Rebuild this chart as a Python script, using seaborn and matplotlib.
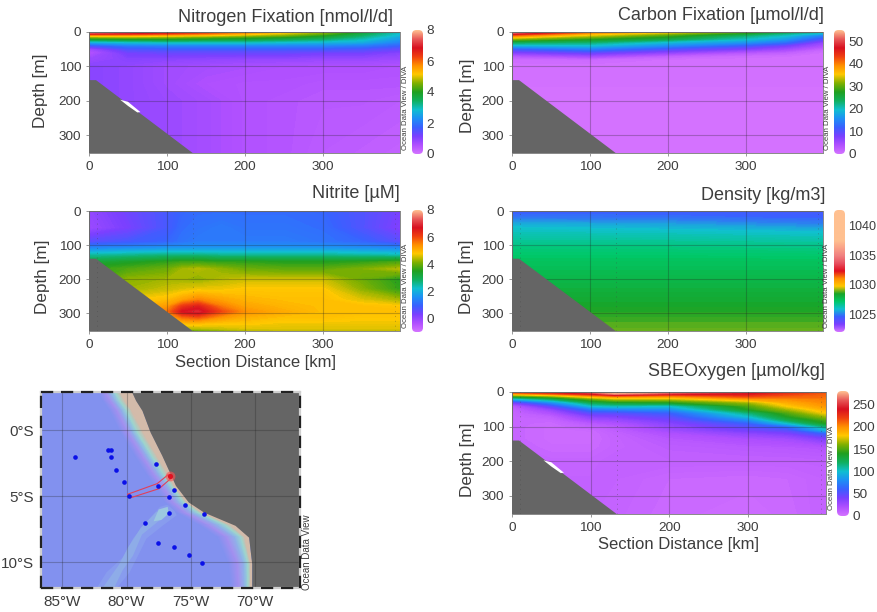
import numpy as np
import seaborn as sns
import matplotlib.pyplot as plt
from matplotlib.patches import FancyBboxPatch, Polygon

W, H = 878, 612

# nitrogen fixation section
n2_km = [0, 50, 100, 150, 200, 250, 300, 350, 400]
n2_depth = [0, 5, 10, 15, 20, 30, 40, 50, 60, 80, 100, 150, 200, 352]
n2_vals = [
    [8.0, 7.5, 7.0, 6.5, 5.9, 5.3, 4.7, 3.8, 2.9],
    [6.8, 6.6, 6.3, 5.9, 5.4, 4.9, 4.4, 3.6, 2.8],
    [5.5, 5.5, 5.3, 5.1, 4.8, 4.5, 4.0, 3.4, 2.7],
    [4.6, 4.7, 4.6, 4.4, 4.2, 4.0, 3.7, 3.2, 2.5],
    [3.9, 4.0, 4.0, 3.9, 3.8, 3.6, 3.4, 3.0, 2.4],
    [2.6, 2.8, 2.9, 2.9, 2.9, 2.8, 2.7, 2.6, 2.1],
    [1.5, 2.0, 2.1, 2.1, 2.1, 2.1, 2.1, 2.0, 1.7],
    [0.7, 1.5, 1.6, 1.6, 1.6, 1.6, 1.6, 1.5, 1.3],
    [0.5, 1.2, 1.3, 1.3, 1.3, 1.3, 1.2, 1.2, 1.0],
    [0.8, 1.0, 0.95, 0.9, 0.85, 0.85, 0.8, 0.8, 0.75],
    [1.0, 0.9, 0.75, 0.7, 0.65, 0.6, 0.6, 0.6, 0.55],
    [1.0, 0.9, 0.75, 0.6, 0.55, 0.55, 0.5, 0.5, 0.5],
    [1.0, 0.9, 0.8, 0.7, 0.55, 0.5, 0.45, 0.45, 0.4],
    [1.0, 0.9, 0.8, 0.7, 0.55, 0.5, 0.4, 0.35, 0.3],
]

# carbon fixation section
c_km = [0, 100, 200, 300, 350, 400]
c_depth = [0, 5, 10, 20, 30, 40, 50, 60, 70, 80, 100, 352]
c_vals = [
    [54, 42, 36, 30, 25, 21],
    [48, 37, 32, 26, 22, 18],
    [41, 34, 29, 23, 20, 14],
    [32, 28, 25, 20, 17, 10],
    [24, 23, 19, 16, 13, 6],
    [18, 19, 15, 11, 8, 4],
    [11, 14, 10, 7, 5, 1.5],
    [7, 9, 6, 3, 2, 0.5],
    [3, 5, 2, 0.8, 0.6, 0.3],
    [0.8, 1, 0.5, 0.3, 0.3, 0.3],
    [0.3, 0.3, 0.3, 0.3, 0.3, 0.3],
    [0.2, 0.2, 0.2, 0.2, 0.2, 0.2],
]

# nitrite section
no2_km = [0, 50, 100, 120, 140, 170, 200, 250, 300, 350, 400]
no2_depth = [0, 50, 90, 110, 130, 150, 170, 200, 230, 260, 280, 295, 310, 330, 345, 352]
no2_vals = [
    [0.0, 0.4, 0.8, 1.0, 1.1, 1.1, 1.1, 1.1, 1.0, 0.7, 0.3],
    [-0.1, 0.3, 0.8, 1.1, 1.2, 1.3, 1.2, 1.2, 1.1, 0.7, 0.2],
    [0.6, 0.8, 1.0, 1.2, 1.3, 1.3, 1.3, 1.3, 1.2, 1.0, 0.6],
    [1.5, 1.6, 1.7, 1.7, 1.7, 1.7, 1.7, 1.7, 1.7, 1.6, 1.5],
    [2.5, 2.6, 2.7, 2.7, 2.7, 2.6, 2.6, 2.6, 2.6, 2.5, 2.4],
    [3.2, 3.4, 3.6, 3.7, 3.7, 3.6, 3.6, 3.5, 3.5, 3.6, 3.8],
    [3.6, 3.8, 4.0, 4.3, 4.4, 4.2, 4.0, 3.9, 3.9, 4.1, 4.4],
    [3.6, 4.2, 4.3, 4.3, 4.2, 4.4, 4.5, 4.5, 4.5, 4.0, 3.5],
    [4.0, 4.3, 4.5, 4.6, 4.7, 4.7, 4.8, 4.8, 4.8, 4.2, 3.6],
    [4.4, 4.7, 4.9, 5.2, 5.5, 5.2, 5.0, 4.9, 4.9, 4.6, 4.3],
    [4.7, 4.9, 5.3, 6.2, 6.5, 5.6, 5.2, 5.0, 4.9, 4.9, 4.8],
    [4.7, 5.1, 5.6, 6.7, 6.9, 6.0, 5.4, 5.1, 4.9, 4.9, 4.9],
    [4.7, 4.9, 5.1, 5.8, 6.0, 5.4, 5.1, 4.9, 4.9, 4.8, 4.8],
    [4.7, 4.7, 4.7, 4.9, 4.9, 4.8, 4.8, 4.7, 4.7, 4.7, 4.7],
    [4.4, 4.4, 4.4, 4.4, 4.4, 4.5, 4.6, 4.6, 4.6, 4.6, 4.6],
    [3.9, 3.9, 3.9, 3.9, 3.9, 4.1, 4.3, 4.4, 4.4, 4.4, 4.4],
]

# density section
rho_km = [0, 200, 400]
rho_depth = [0, 20, 40, 60, 100, 150, 250, 352]
rho_vals = [
    [1024.5, 1024.5, 1024.3],
    [1024.9, 1024.8, 1024.6],
    [1025.7, 1025.5, 1025.1],
    [1026.1, 1026.0, 1025.8],
    [1026.8, 1026.8, 1026.7],
    [1027.4, 1027.4, 1027.4],
    [1028.2, 1028.2, 1028.2],
    [1028.9, 1028.9, 1028.9],
]

# oxygen section
o2_km = [0, 50, 100, 130, 200, 300, 350, 400]
o2_depth = [0, 5, 10, 15, 20, 30, 40, 50, 60, 70, 80, 90, 100, 110, 120, 135, 160, 200, 250, 352]
o2_vals = [
    [225, 240, 262, 278, 270, 245, 228, 215],
    [195, 215, 240, 272, 250, 238, 222, 212],
    [160, 175, 205, 225, 210, 225, 215, 210],
    [125, 145, 178, 190, 190, 212, 208, 208],
    [95, 120, 155, 170, 170, 195, 200, 205],
    [40, 80, 125, 135, 140, 165, 190, 202],
    [15, 50, 100, 105, 100, 150, 180, 198],
    [10, 30, 70, 75, 80, 140, 165, 190],
    [8, 20, 50, 50, 60, 115, 150, 180],
    [8, 12, 35, 38, 50, 100, 140, 165],
    [8, 8, 25, 28, 42, 80, 125, 150],
    [8, 6, 15, 20, 35, 60, 100, 140],
    [8, 5, 10, 14, 30, 50, 65, 115],
    [8, 5, 6, 12, 26, 42, 50, 95],
    [8, 5, 5, 10, 20, 32, 38, 60],
    [8, 5, 5, 9, 16, 22, 25, 38],
    [9, 6, 6, 9, 13, 15, 16, 18],
    [10, 9, 9, 11, 11, 11, 11, 12],
    [10, 10, 10, 10, 7, 6, 7, 10],
    [10, 10, 10, 9, 6, 5, 6, 10],
]

# sea floor along the section
floor_km = [0, 9, 133, 0]
floor_depth = [140, 140, 352, 352]
gap_km = [40, 50, 66, 62, 50]
gap_depth = [197, 203, 233, 234, 215]

# map
coast_lat = [2.9, 2.27, 1.5, -0.13, -1.9, -3.3, -4.17, -5.43, -6.2, -7.2, -8.1, -10.1, -12.0]
coast_lon = [-79.6, -79.3, -78.8, -78.17, -77.26, -76.6, -76.2, -75.2, -74.0, -71.56, -70.5, -70.26, -70.26]
beige_off = [-0.9, -0.85, -0.8, -0.55, -0.4, -0.2, -0.1, -0.12, -0.18, -0.3, -0.3, -0.08, -0.08]
teal_off = [-1.3, -1.25, -1.2, -1.0, -0.8, -0.55, -0.35, -0.4, -0.5, -0.75, -0.6, -0.3, -0.3]
pale_off = [-1.65, -1.6, -1.55, -1.35, -1.15, -0.9, -0.65, -0.75, -0.95, -1.3, -1.05, -0.6, -0.55]
violet_off = [-2.05, -2.0, -1.95, -1.75, -1.55, -1.3, -1.05, -1.2, -1.5, -2, -1.7, -1.1, -1]
outer_off = [-2.6, -2.55, -2.5, -2.3, -2.1, -1.85, -1.6, -1.8, -2.1, -2.7, -2.4, -1.8, -1.6]
ridge_lon = [-82.35, -81.55, -80.25, -79.5, -78.45, -77.4, -76.5, -76.1, -77.15, -78.45, -78.95, -79.75, -80.8]
ridge_lat = [-12.0, -10.75, -9.6, -8.2, -6.95, -5.8, -5.55, -6.45, -7.2, -8.2, -9.2, -10.75, -12.0]
ridge2_lon = [-81.9, -80.6, -79.9, -78.9, -77.7, -76.9, -77.4, -78.8, -79.5, -80.3, -81.0]
ridge2_lat = [-12.0, -10.2, -8.9, -7.4, -6.2, -5.9, -6.8, -7.9, -9.5, -10.6, -12.0]
ridge3_lon = [-77.9, -77.5, -76.8, -76.7, -77.3]
ridge3_lat = [-6.9, -6.0, -5.8, -6.3, -6.8]
st_lon = [-84.02, -81.48, -81.25, -81.22, -80.83, -80.23, -77.67, -77.56, -76.29, -76.68, -75.43, -73.98, -76.68, -78.57, -77.56, -76.29, -75.17, -74.09, -79.79]
st_lat = [-2.02, -1.52, -1.52, -2.02, -3.03, -3.89, -2.58, -4.22, -4.55, -5.05, -5.63, -6.34, -6.24, -7.05, -8.54, -8.84, -9.44, -10.05, -5.0]
track_lon = [-79.92, -77.61, -76.76, -76.42, -77.46, -79.74, -79.92]
track_lat = [-4.85, -4.04, -3.36, -3.54, -4.42, -5.13, -4.85]

sns.set_theme(style='white')
plt.rcParams['font.family'] = ['Liberation Sans', 'DejaVu Sans']
ink = '#3d3d3d'
odv = sns.blend_palette(['#d472ff', '#b050ff', '#7a40ff', '#3a60ff', '#1e90f5', '#10c0d0',
                         '#10b060', '#20a020', '#80b000', '#ffc800', '#ff9000', '#f04010',
                         '#d81020', '#e85858', '#ffc090'], n_colors=256, as_cmap=True)
odv_rho = sns.blend_palette(['#d472ff', '#7a40ff', '#3a60ff', '#10c0d0', '#00c868', '#18a428',
                             '#ffc800', '#ff9000', '#e01020', '#e85060', '#f08080', '#faa088',
                             '#ffc090', '#ffc090', '#ffc090', '#ffc090', '#ffc090'],
                            n_colors=256, as_cmap=True)
shore = sns.blend_palette(['#8291ef', '#a490f0', '#8fb4e8', '#9ad6d0', '#d3bbaa'], n_colors=256, as_cmap=True)

fig = plt.figure(figsize=(W / 100, H / 100), dpi=100, facecolor='white')


def box(x0, y0, x1, y1):
    return fig.add_axes([x0 / W, 1 - y1 / H, (x1 - x0) / W, (y1 - y0) / H])


def section(rect, km, depth, vals, vmin, vmax, title, title_xy, cbar_ticks, cbar_rect, diva_x,
            ylabel_xy, xlabel=False, stations=False, gap=False, cmap=odv, cbar_size=9.7):
    ax = box(*rect)
    levels = np.linspace(vmin, vmax, 200)
    ax.contourf(km, depth, np.array(vals), levels=levels, cmap=cmap, vmin=vmin, vmax=vmax, extend='both',
                antialiased=False)
    ax.add_patch(Polygon(np.column_stack([floor_km, floor_depth]), fc='#656565', ec='none', zorder=3))
    if gap:
        ax.add_patch(Polygon(np.column_stack([gap_km, gap_depth]), fc='white', ec='none', zorder=3))
    ax.set_xlim(0, 399)
    ax.set_ylim(352, 0)
    ax.set_xticks([0, 100, 200, 300])
    ax.set_yticks([0, 100, 200, 300])
    ax.grid(True, color='#222222', alpha=0.28, lw=0.8, zorder=4)
    ax.set_axisbelow(False)
    ax.tick_params(left=True, bottom=True, length=2, width=0.6, color='#888888', labelsize=9.7,
                   labelcolor=ink, pad=3.5)
    for s in ax.spines.values():
        s.set_color('#888888')
        s.set_linewidth(0.7)
    if stations:
        for k in [10, 133, 393]:
            ax.axvline(k, color='#444444', lw=0.7, ls=(0, (1, 4)), alpha=0.4, zorder=4)
    fig.text(ylabel_xy[0] / W, 1 - ylabel_xy[1] / H, 'Depth [m]', rotation=90, ha='center', va='center',
             fontsize=12.3, color=ink)
    if xlabel:
        fig.text((rect[0] + 167) / W, 1 - (rect[3] + 31) / H, 'Section Distance [km]', ha='center', va='center',
                 fontsize=12, color=ink)
    fig.text(title_xy[0] / W, 1 - title_xy[1] / H, title, ha='right', va='center', fontsize=13, color=ink)

    # colour bar with rounded ends
    cax = box(*cbar_rect)
    grad = np.linspace(vmin, vmax, 256).reshape(-1, 1)
    im = cax.imshow(grad, origin='lower', aspect='auto', cmap=cmap, vmin=vmin, vmax=vmax,
                    extent=[0, 1, vmin, vmax])
    w_px = cbar_rect[2] - cbar_rect[0]
    h_px = cbar_rect[3] - cbar_rect[1]
    rnd = FancyBboxPatch((0, vmin), 1, vmax - vmin, boxstyle='round,pad=0,rounding_size=0.4',
                         mutation_aspect=(vmax - vmin) / h_px * w_px, fc='none', ec='none')
    cax.add_patch(rnd)
    im.set_clip_path(rnd)
    cax.set_xlim(0, 1)
    cax.set_ylim(vmin, vmax)
    cax.set_xticks([])
    cax.yaxis.tick_right()
    cax.set_yticks(cbar_ticks)
    cax.tick_params(right=False, length=0, labelsize=cbar_size, labelcolor=ink, pad=2.5)
    sns.despine(ax=cax, left=True, right=True, top=True, bottom=True)
    fig.text(diva_x / W, 1 - (rect[1] + rect[3] + 30) / 2 / H, 'Ocean Data View / DIVA', rotation=90,
             ha='center', va='center', fontsize=5.6, color=ink)
    return ax


section((89, 32, 400, 153), n2_km, n2_depth, n2_vals, 0, 8, 'Nitrogen Fixation [nmol/l/d]', (393, 18),
        [0, 2, 4, 6, 8], (412, 30, 423, 154), 406, (40, 91), gap=True)
section((512, 32, 823, 153), c_km, c_depth, c_vals, 0, 55, 'Carbon Fixation [µmol/l/d]', (824, 16),
        [0, 10, 20, 30, 40, 50], (834, 30, 845, 154), 828, (468, 96))
section((89, 211, 400, 331), no2_km, no2_depth, no2_vals, -1, 8, 'Nitrite [µM]', (400, 194),
        [0, 2, 4, 6, 8], (412, 210, 423, 332), 406, (43, 277), xlabel=True, stations=True)
section((512, 211, 823, 331), rho_km, rho_depth, rho_vals, 1022, 1042.6, 'Density [kg/m3]', (825, 196),
        [1025, 1030, 1035, 1040], (834, 210, 845, 332), 827, (467, 277), stations=True, cmap=odv_rho, cbar_size=9.1)
section((512, 392, 826, 514), o2_km, o2_depth, o2_vals, 0, 280, 'SBEOxygen [µmol/kg]', (825, 372),
        [0, 50, 100, 150, 200, 250], (837, 391, 849, 516), 832, (468, 460), xlabel=True, stations=True, gap=True)

# map panel
ax = box(41, 392, 300, 588)
ax.set_facecolor('#8291ef')
lat = np.array(coast_lat)
lon = np.array(coast_lon)
west = -86.66
east = -66.5

ax.add_patch(Polygon(np.column_stack([ridge_lon, ridge_lat]), fc='#889cee', ec='none', zorder=1))
ax.add_patch(Polygon(np.column_stack([ridge2_lon, ridge2_lat]), fc='#8eace8', ec='none', zorder=1.1))
ax.add_patch(Polygon(np.column_stack([ridge3_lon, ridge3_lat]), fc='#9cc8e0', ec='none', zorder=1.2))

# shelf bands, one column per depth class
offs = [outer_off, violet_off, pale_off, teal_off, beige_off, [0] * len(lat)]
mx = np.column_stack([lon + np.array(o) for o in offs])
my = np.column_stack([lat] * len(offs))
mc = np.tile([0, 1, 2, 3, 4, 4], (len(lat), 1))
ax.pcolormesh(mx, my, mc, cmap=shore, vmin=0, vmax=4, shading='gouraud', zorder=2)
ax.fill_betweenx(lat, lon, east, color='#656565', lw=0, zorder=2.4)

sns.lineplot(x=track_lon, y=track_lat, sort=False, estimator=None, color='#e0405a', lw=0.8, ax=ax, zorder=5)
sns.scatterplot(x=st_lon, y=st_lat, color='#0a10e8', s=11, linewidth=0, ax=ax, zorder=6)
sns.scatterplot(x=[-76.63], y=[-3.48], color='#ff5050', s=50, linewidth=0, alpha=0.6, ax=ax, zorder=7)
sns.scatterplot(x=[-76.63], y=[-3.48], color='#e01020', s=14, linewidth=0, ax=ax, zorder=7)

ax.set_xlim(west, east)
ax.set_ylim(-11.95, 2.9)
ax.set_xticks([-85, -80, -75, -70])
ax.set_xticklabels(['85°W', '80°W', '75°W', '70°W'])
ax.set_yticks([0, -5, -10])
ax.set_yticklabels(['0°S', '5°S', '10°S'])
ax.grid(True, color='#222222', alpha=0.28, lw=0.8, zorder=4)
ax.set_axisbelow(False)
ax.tick_params(length=0, labelsize=11, labelcolor=ink, pad=5)
for s in ax.spines.values():
    s.set_color('#cfcfcf')
    s.set_linewidth(1.6)
    s.set_zorder(8)
for xs, ys in [([0, 1], [0, 0]), ([0, 1], [1, 1]), ([0, 0], [0, 1]), ([1, 1], [0, 1])]:
    ax.plot(xs, ys, transform=ax.transAxes, color='#222222', lw=1.6, ls=(0, (5.5, 3.5)), clip_on=False, zorder=9)
fig.text(307 / W, 1 - 552 / H, 'Ocean Data View', rotation=90, ha='center', va='center', fontsize=7, color=ink)

plt.savefig('out.png', dpi=100)
plt.close()
